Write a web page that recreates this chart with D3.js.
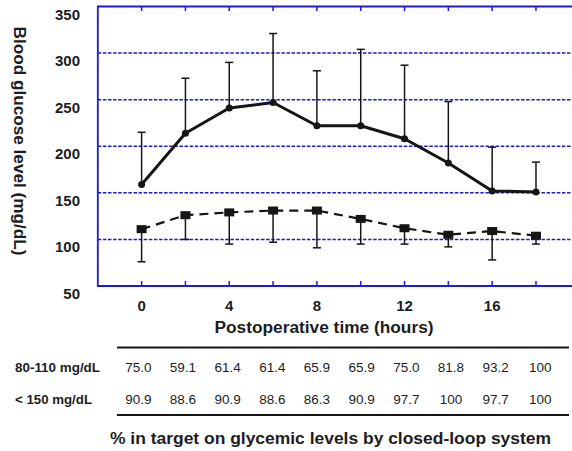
<!DOCTYPE html>
<html>
<head>
<meta charset="utf-8">
<script src="https://cdn.jsdelivr.net/npm/d3@7"></script>
<style>
  html, body { margin: 0; padding: 0; background: #fff; }
  svg { display: block; }
  text { font-family: "Liberation Sans", Arial, sans-serif; fill: #1c1c24; }
</style>
</head>
<body>
<svg id="chart" width="572" height="451"></svg>
<script>
// ---- data ----
const hours = [0, 2, 4, 6, 8, 10, 12, 14, 16, 18];
const meanSolid  = [159, 214, 241, 247, 222, 222, 208, 182, 152, 151];
const upperSolid = [215, 273, 290, 321, 281, 304, 287, 248, 199, 183];
const meanDashed = [111, 126, 129, 131, 131, 122, 112, 105, 109, 104];
const lowerDashed = [76, 100, 95, 97, 91, 95, 95, 92, 78, 95];
const xTickLabels = [0, 4, 8, 12, 16];
const yTickLabels = [50, 100, 150, 200, 250, 300, 350];
const gridValues = [100, 150, 200, 250, 300];
const rowLabels = ["80-110 mg/dL", "< 150 mg/dL"];
const row1 = ["75.0", "59.1", "61.4", "61.4", "65.9", "65.9", "75.0", "81.8", "93.2", "100"];
const row2 = ["90.9", "88.6", "90.9", "88.6", "86.3", "90.9", "97.7", "100", "97.7", "100"];
const yTitle = "Blood glucose level (mg/dL)";
const xTitle = "Postoperative time (hours)";
const tableTitle = "% in target on glycemic levels by closed-loop system";

// ---- layout ----
const svg = d3.select("#chart");
const x = d3.scaleLinear().domain([-2, 20]).range([97.8, 579.8]);
const y = d3.scaleLinear().domain([50, 350]).range([286, 6.5]);
const blue = "#1a1ad8";
const ink = "#151515";

// gridlines
svg.append("g").selectAll("line").data(gridValues).join("line")
  .attr("x1", x(-2)).attr("x2", 572)
  .attr("y1", d => y(d)).attr("y2", d => y(d))
  .attr("stroke", blue).attr("stroke-width", 1.5)
  .attr("stroke-dasharray", "3.5,1.6");

// frame
svg.append("path")
  .attr("d", `M${x(20)},${y(350)} H${x(-2)} V${y(50)} H${x(20)}`)
  .attr("fill", "none").attr("stroke", blue).attr("stroke-width", 1.8);

// ticks (inside) at top and bottom
const tickG = svg.append("g");
tickG.selectAll("line.tb").data(hours).join("line").attr("class", "tb")
  .attr("x1", d => x(d)).attr("x2", d => x(d))
  .attr("y1", y(50)).attr("y2", y(50) - 5)
  .attr("stroke", blue).attr("stroke-width", 1.5);
tickG.selectAll("line.tt").data(hours).join("line").attr("class", "tt")
  .attr("x1", d => x(d)).attr("x2", d => x(d))
  .attr("y1", y(350)).attr("y2", y(350) + 4.5)
  .attr("stroke", blue).attr("stroke-width", 1.5);

// y tick labels
svg.append("g").selectAll("text").data(yTickLabels).join("text")
  .attr("x", 80).attr("y", d => y(d) + 13)
  .attr("text-anchor", "end")
  .style("font-size", "15px").style("font-weight", "bold")
  .text(d => d);

// x tick labels
svg.append("g").selectAll("text").data(xTickLabels).join("text")
  .attr("x", d => x(d)).attr("y", 310.5)
  .attr("text-anchor", "middle")
  .style("font-size", "15px").style("font-weight", "bold")
  .text(d => d);

// axis titles
svg.append("text")
  .attr("transform", "translate(14,141) rotate(90)")
  .attr("text-anchor", "middle")
  .style("font-size", "16px").style("font-weight", "bold")
  .attr("textLength", 229).attr("lengthAdjust", "spacingAndGlyphs")
  .text(yTitle);
svg.append("text")
  .attr("x", 324).attr("y", 333)
  .attr("text-anchor", "middle")
  .style("font-size", "16px").style("font-weight", "bold")
  .attr("textLength", 219).attr("lengthAdjust", "spacingAndGlyphs")
  .text(xTitle);

// dashed series error bars (downwards)
const errD = svg.append("g").attr("stroke", ink).attr("stroke-width", 1.5);
hours.forEach((h, i) => {
  errD.append("line").attr("x1", x(h)).attr("x2", x(h))
    .attr("y1", y(meanDashed[i])).attr("y2", y(lowerDashed[i]));
  errD.append("line").attr("x1", x(h) - 4).attr("x2", x(h) + 4)
    .attr("y1", y(lowerDashed[i])).attr("y2", y(lowerDashed[i]));
});

// solid series error bars (upwards)
const errS = svg.append("g").attr("stroke", ink).attr("stroke-width", 1.5);
hours.forEach((h, i) => {
  errS.append("line").attr("x1", x(h)).attr("x2", x(h))
    .attr("y1", y(meanSolid[i])).attr("y2", y(upperSolid[i]));
  errS.append("line").attr("x1", x(h) - 4).attr("x2", x(h) + 4)
    .attr("y1", y(upperSolid[i])).attr("y2", y(upperSolid[i]));
});

// dashed line
const lineD = d3.line().x((d, i) => x(hours[i])).y(d => y(d));
svg.append("path").datum(meanDashed)
  .attr("d", lineD).attr("fill", "none")
  .attr("stroke", ink).attr("stroke-width", 2.2)
  .attr("stroke-dasharray", "9,6");
svg.append("g").selectAll("rect").data(meanDashed).join("rect")
  .attr("x", (d, i) => x(hours[i]) - 5).attr("y", d => y(d) - 4)
  .attr("width", 10).attr("height", 8).attr("fill", ink);

// solid line
svg.append("path").datum(meanSolid)
  .attr("d", lineD).attr("fill", "none")
  .attr("stroke", ink).attr("stroke-width", 3).attr("stroke-linejoin", "round");
svg.append("g").selectAll("circle").data(meanSolid).join("circle")
  .attr("cx", (d, i) => x(hours[i])).attr("cy", d => y(d))
  .attr("r", 3.5).attr("fill", ink);

// ---- table ----
const col = d3.scaleLinear().domain([0, 9]).range([138.3, 540.3]);
svg.append("line").attr("x1", 117).attr("x2", 569).attr("y1", 347.5).attr("y2", 347.5)
  .attr("stroke", ink).attr("stroke-width", 2);
svg.append("line").attr("x1", 117).attr("x2", 569).attr("y1", 415).attr("y2", 415)
  .attr("stroke", ink).attr("stroke-width", 2);

const rows = [row1, row2];
const rowY = [371.5, 404];
rowLabels.forEach((lab, r) => {
  svg.append("text").attr("x", 15).attr("y", rowY[r])
    .style("font-size", "13px").style("font-weight", "bold")
    .attr("textLength", r === 0 ? 85 : 77).attr("lengthAdjust", "spacingAndGlyphs")
    .text(lab);
  svg.append("g").selectAll("text").data(rows[r]).join("text")
    .attr("x", (d, i) => col(i)).attr("y", rowY[r])
    .attr("text-anchor", "middle")
    .style("font-size", "13.5px")
    .text(d => d);
});

svg.append("text").attr("x", 330.5).attr("y", 444)
  .attr("text-anchor", "middle")
  .style("font-size", "17px").style("font-weight", "bold")
  .attr("textLength", 441).attr("lengthAdjust", "spacingAndGlyphs")
  .text(tableTitle);
</script>
</body>
</html>
